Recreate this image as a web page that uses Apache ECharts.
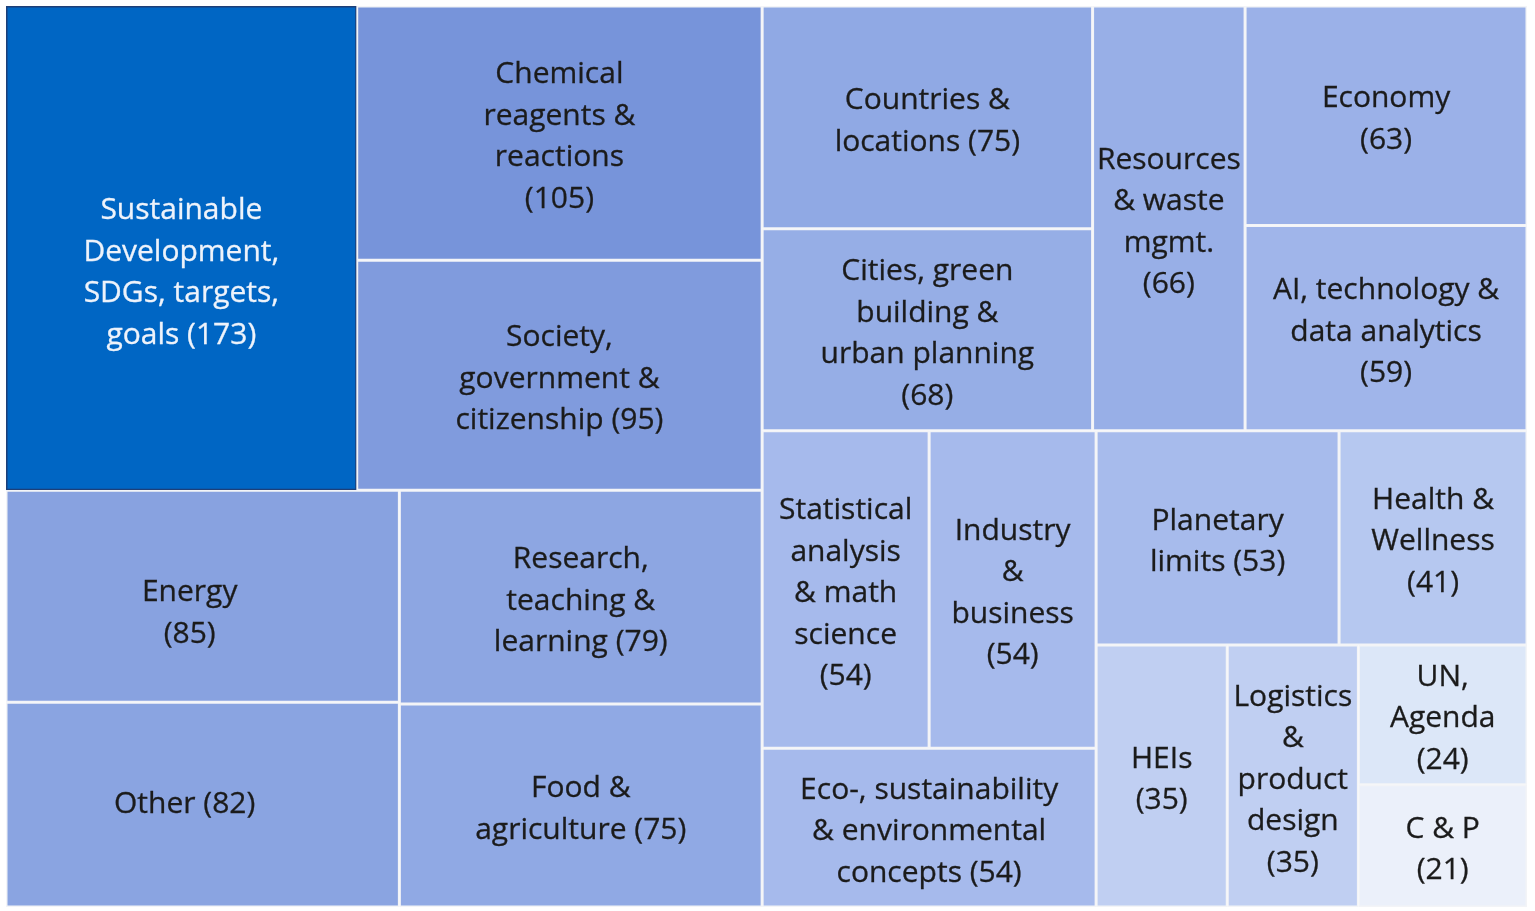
<!DOCTYPE html>
<html>
<head>
<meta charset="utf-8">
<title>Topics treemap</title>
<script src="https://cdn.jsdelivr.net/npm/echarts@6/dist/echarts.min.js"></script>
<style>
  html, body { margin: 0; padding: 0; background: #ffffff; }
  #main { width: 1535px; height: 911px; }
</style>
</head>
<body>
<div id="main"></div>
<script>
// topic names (already wrapped the way the labels are shown; the count is appended)
const names = [
  "Sustainable\nDevelopment,\nSDGs, targets,\ngoals ",
  "Chemical\nreagents &\nreactions\n",
  "Society,\ngovernment &\ncitizenship ",
  "Energy\n",
  "Other ",
  "Research,\nteaching &\nlearning ",
  "Food &\nagriculture ",
  "Countries &\nlocations ",
  "Cities, green\nbuilding &\nurban planning\n",
  "Resources\n& waste\nmgmt.\n",
  "Economy\n",
  "AI, technology &\ndata analytics\n",
  "Statistical\nanalysis\n& math\nscience\n",
  "Industry\n&\nbusiness\n",
  "Eco-, sustainability\n& environmental\nconcepts ",
  "Planetary\nlimits ",
  "Health &\nWellness\n",
  "HEIs\n",
  "Logistics\n&\nproduct\ndesign\n",
  "UN,\nAgenda\n",
  "C & P\n"
];
const counts = [173, 105, 95, 85, 82, 79, 75, 75, 68, 66, 63, 59, 54, 54, 54, 53, 41, 35, 35, 24, 21];

// grouping of the topics (indexes into names/counts), so the squarify layout
// splits the area the same way as the original picture
const groups = [
  [[0, [1, 2]], [[3, 4], [5, 6]]],
  [[[7, 8], [9, [10, 11]]], [[[12, 13], 14], [[15, 16], [17, [18, [19, 20]]]]]]
];

// fill colour by count (light -> dark blue)
const colorStops = [
  [21, [235, 240, 250]],
  [24, [220, 231, 248]],
  [35, [192, 207, 242]],
  [41, [182, 200, 240]],
  [54, [166, 186, 236]],
  [63, [155, 177, 232]],
  [75, [144, 169, 228]],
  [85, [136, 162, 224]],
  [105, [119, 148, 218]],
  [173, [0, 102, 196]]
];

// a few labels sit off-centre in the original
const labelShift = { 0: [0, 25], 3: [-13, 17], 4: [-18, 0] };

function colorFor(v) {
  for (let i = 1; i < colorStops.length; i++) {
    const a = colorStops[i - 1], b = colorStops[i];
    if (v <= b[0]) {
      const t = (v - a[0]) / (b[0] - a[0]);
      const c = a[1].map((x, k) => Math.round(x + (b[1][k] - x) * t));
      return "rgb(" + c.join(",") + ")";
    }
  }
  return "rgb(" + colorStops[colorStops.length - 1][1].join(",") + ")";
}

function build(node) {
  if (typeof node === "number") {
    const v = counts[node];
    const item = {
      name: names[node],
      value: v,
      itemStyle: {
        color: colorFor(v),
        borderColor: "#f3f4f7",
        borderWidth: 1.5
      },
      label: {}
    };
    if (labelShift[node]) item.label.offset = labelShift[node];
    if (v === Math.max(...counts)) {
      item.itemStyle.borderColor = "#1d3f78";
      item.label.color = "#eef3fb";
      item.label.textBorderColor = "#eef3fb";
    }
    return item;
  }
  const children = node.map(build);
  return {
    name: "",
    value: children.reduce((s, c) => s + c.value, 0),
    itemStyle: { borderWidth: 0, gapWidth: 0, color: "#ffffff" },
    children: children
  };
}

const chart = echarts.init(document.getElementById("main"));
chart.setOption({
  backgroundColor: "#ffffff",
  animation: false,
  tooltip: { show: false },
  series: [
    {
      type: "treemap",
      left: 6,
      top: 6,
      right: 8,
      bottom: 4,
      sort: false,
      squareRatio: 1,
      roam: false,
      nodeClick: false,
      breadcrumb: { show: false },
      itemStyle: { borderWidth: 0, gapWidth: 0 },
      upperLabel: { show: false },
      label: {
        show: true,
        position: "inside",
        align: "center",
        verticalAlign: "middle",
        overflow: "none",
        offset: [0, 4],
        fontFamily: "Open Sans",
        fontSize: 30,
        lineHeight: 41.5,
        color: "#1b1b1b",
        textBorderColor: "#1b1b1b",
        textBorderWidth: 0.3,
        formatter: function (p) {
          return p.name + "(" + p.value + ")";
        }
      },
      emphasis: { disabled: true },
      data: groups.map(build)
    }
  ]
});
</script>
</body>
</html>
